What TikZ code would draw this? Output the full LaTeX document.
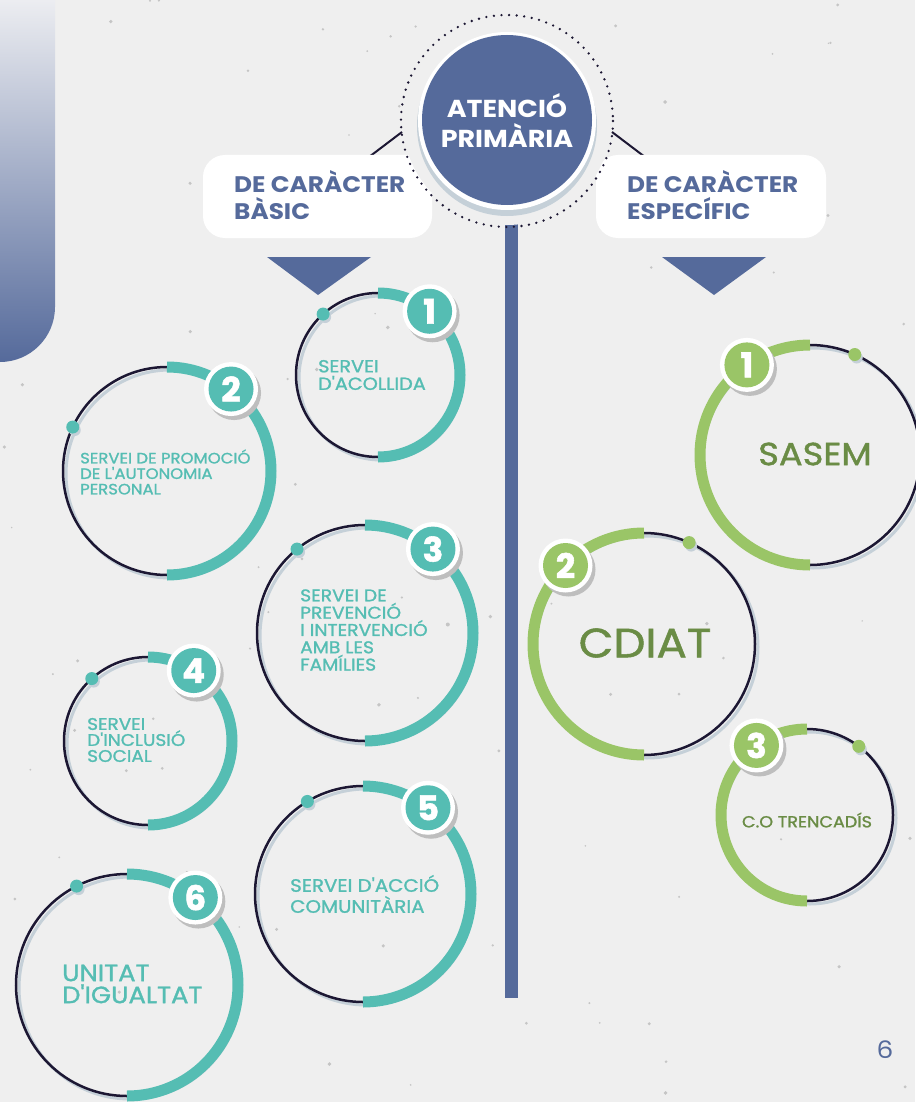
\documentclass[tikz,border=0pt]{standalone}
\usepackage{fontspec}
\setmainfont{Poppins}[Ligatures=TeXOff, FakeStretch=1.1]
\newfontfamily\medf{Poppins}[Ligatures=TeXOff, FakeStretch=1.1, FakeBold=1.3]
\newfontfamily\heavyf{Poppins}[Ligatures=TeXOff, BoldFeatures={FakeBold=1.6}]
\usetikzlibrary{calc}

\definecolor{bluec}{HTML}{556A9B}
\definecolor{tealc}{HTML}{55BDB3}
\definecolor{greenc}{HTML}{9AC567}
\definecolor{dgreenc}{HTML}{6A8C45}
\definecolor{darkring}{HTML}{1C1733}
\definecolor{shadowring}{HTML}{C5D0D8}
\definecolor{badgesh}{HTML}{BEBEBE}
\definecolor{bgc}{HTML}{EFEFEF}
\definecolor{lightblue}{HTML}{ECEDF1}
\definecolor{speck}{HTML}{777777}

\tikzset{
  ring/.style={draw=darkring, line width=2.5},
  ringshadow/.style={draw=shadowring, line width=3},
  badgeshadow/.style={circle, fill=badgesh, minimum size=54, inner sep=0},
  badgewhite/.style={circle, fill=white, minimum size=54, inner sep=0},
  badgeinner/.style={circle, minimum size=45, inner sep=0, text=white,
    font=\heavyf\fontsize{34}{34}\selectfont\bfseries},
  itemtext/.style={align=left, inner sep=0, anchor=west},
  headtext/.style={align=left, inner sep=0, anchor=west, text=bluec,
    font=\fontsize{22.5}{27}\selectfont\bfseries},
  whitebox/.style={fill=white, rounded corners=22},
}

% #1 badge name, #2 cx, #3 cy, #4 r, #5 colour, #6 side (1 right, -1 left),
% #7 badge angle, #8 dot angle, #9 number
\newcommand\svcring[9]{%
  \pgfmathsetmacro\svbx{#2+#4*cos(#7)}%
  \pgfmathsetmacro\svby{#3-#4*sin(#7)}%
  \pgfmathsetmacro\svdx{#2+#4*cos(#8)}%
  \pgfmathsetmacro\svdy{#3-#4*sin(#8)}%
  \draw[ringshadow] ({#2+3},{#3+3}) circle[radius=#4];
  \draw[ring] (#2,#3) circle[radius=#4];
  \draw[#5, line width=11] (#2,{#3-#4}) arc[start angle=-90, end angle={-90+(#6)*180}, radius=#4];
  \fill[shadowring] ({\svdx+2},{\svdy+3}) circle[radius=6];
  \fill[#5] (\svdx,\svdy) circle[radius=6.5];
  \node[badgeshadow] at ({\svbx+3},{\svby+4}) {};
  \node[badgewhite] (#1w) at (\svbx,\svby) {};
  \node[badgeinner, fill=#5] (#1) at (\svbx,\svby) {#9};
}

\begin{document}
\begin{tikzpicture}[x=1pt, y=-1pt]
\useasboundingbox (0,0) rectangle (915,1102);
\fill[bgc] (0,0) rectangle (915,1102);

% paper texture specks
\pgfmathsetseed{4242}
\foreach \k in {1,...,90}{
  \pgfmathsetmacro\spx{915*rnd}
  \pgfmathsetmacro\spy{1102*rnd}
  \pgfmathsetmacro\spr{0.8+1.2*rnd}
  \fill[speck, opacity=0.35] (\spx,\spy) circle[radius=\spr];
}

% top-left decorative bar
\shade[top color=lightblue, bottom color=bluec, middle color=bluec!50!lightblue]
  (0,0) -- (55,0) -- (55,307) arc[start angle=0, end angle=90, radius=55] -- (0,362) -- cycle;

% vertical spine
\fill[bluec] (505,200) rectangle (518,998);

% connectors from the central circle to the boxes
\coordinate (lcA) at (369,157);
\coordinate (lcB) at (402,132);
\coordinate (rcA) at (645,157);
\coordinate (rcB) at (612,132);
\draw[darkring, line width=2] (lcA) -- (lcB);
\draw[darkring, line width=2] (rcA) -- (rcB);

% boxes
\fill[whitebox] (203,155) rectangle (432,238);
\fill[whitebox] (596,155) rectangle (826,238);
\node[headtext] (lbox) at (234,195) {DE CARÀCTER\\BÀSIC};
\node[headtext] (rbox) at (627,195) {DE CARÀCTER\\ESPECÍFIC};

% central circle
\fill[bgc] (507,121) circle[radius=104];
\draw[darkring, line width=2.6, line cap=round, dash pattern=on 0pt off 7.6pt] (507,121) circle[radius=106];
\fill[shadowring] (507,126) circle[radius=90];
\fill[white] (507,121) circle[radius=89];
\fill[bluec] (507,120) circle[radius=85];
\node[align=center, inner sep=0, text=white, font=\fontsize{24.5}{30}\selectfont\bfseries]
  (atp) at (507,121) {ATENCIÓ\\PRIMÀRIA};

% triangles
\coordinate (tlA) at (267,257); \coordinate (tlB) at (371,257); \coordinate (tlC) at (318,295);
\coordinate (trA) at (662,257); \coordinate (trB) at (766,257); \coordinate (trC) at (714,295);
\fill[bluec] (tlA) -- (tlB) -- (tlC) -- cycle;
\fill[bluec] (trA) -- (trB) -- (trC) -- cycle;

% left column (teal)
\svcring{b1}{378}{375}{82}{tealc}{1}{51}{132}{1}
\node[itemtext, text=tealc, font=\medf\fontsize{17.5}{17.5}\selectfont] (t1) at (318,375) {SERVEI\\D'ACOLLIDA};

\svcring{b2}{167}{471}{104}{tealc}{1}{52}{155}{2}
\node[itemtext, text=tealc, font=\medf\fontsize{15}{15.5}\selectfont] (t2) at (80,472) {SERVEI DE PROMOCIÓ\\DE L'AUTONOMIA\\PERSONAL};

\svcring{b3}{365}{633}{108}{tealc}{1}{51}{129}{3}
\node[itemtext, text=tealc, font=\medf\fontsize{17}{17.3}\selectfont] (t3) at (300,630) {SERVEI DE\\PREVENCIÓ\\I INTERVENCIÓ\\AMB LES\\FAMÍLIES};

\svcring{b4}{148}{741}{84}{tealc}{1}{57}{132}{4}
\node[itemtext, text=tealc, font=\medf\fontsize{16.8}{16}\selectfont] (t4) at (87,740) {SERVEI\\D'INCLUSIÓ\\SOCIAL};

\svcring{b5}{363}{894}{108}{tealc}{1}{53}{121}{5}
\node[itemtext, text=tealc, font=\medf\fontsize{18}{21}\selectfont] (t5) at (290,894) {SERVEI D'ACCIÓ\\COMUNITÀRIA};

\svcring{b6}{127}{985}{111}{tealc}{1}{52}{117}{6}
\node[itemtext, text=tealc, font=\medf\fontsize{23.5}{22}\selectfont] (t6) at (62,984) {UNITAT\\D'IGUALTAT};

% right column (green)
\svcring{g1}{810}{455}{110}{greenc}{-1}{125}{66}{1}
\node[inner sep=0, text=dgreenc, font=\medf\fontsize{32}{32}\selectfont] (s1) at (815,454) {SASEM};

\svcring{g2}{644}{644}{111}{greenc}{-1}{135}{66}{2}
\node[inner sep=0, text=dgreenc, font=\medf\fontsize{41}{41}\selectfont] (s2) at (645,643) {CDIAT};

\svcring{g3}{807}{815}{86}{greenc}{-1}{126}{53}{3}
\node[inner sep=0, text=dgreenc, font=\medf\fontsize{16}{16}\selectfont] (s3) at (807,820) {C.O TRENCADÍS};

% page number
\node[inner sep=0, text=bluec, font=\fontsize{24}{24}\selectfont] (pg) at (885,1050) {6};
\end{tikzpicture}
\end{document}
